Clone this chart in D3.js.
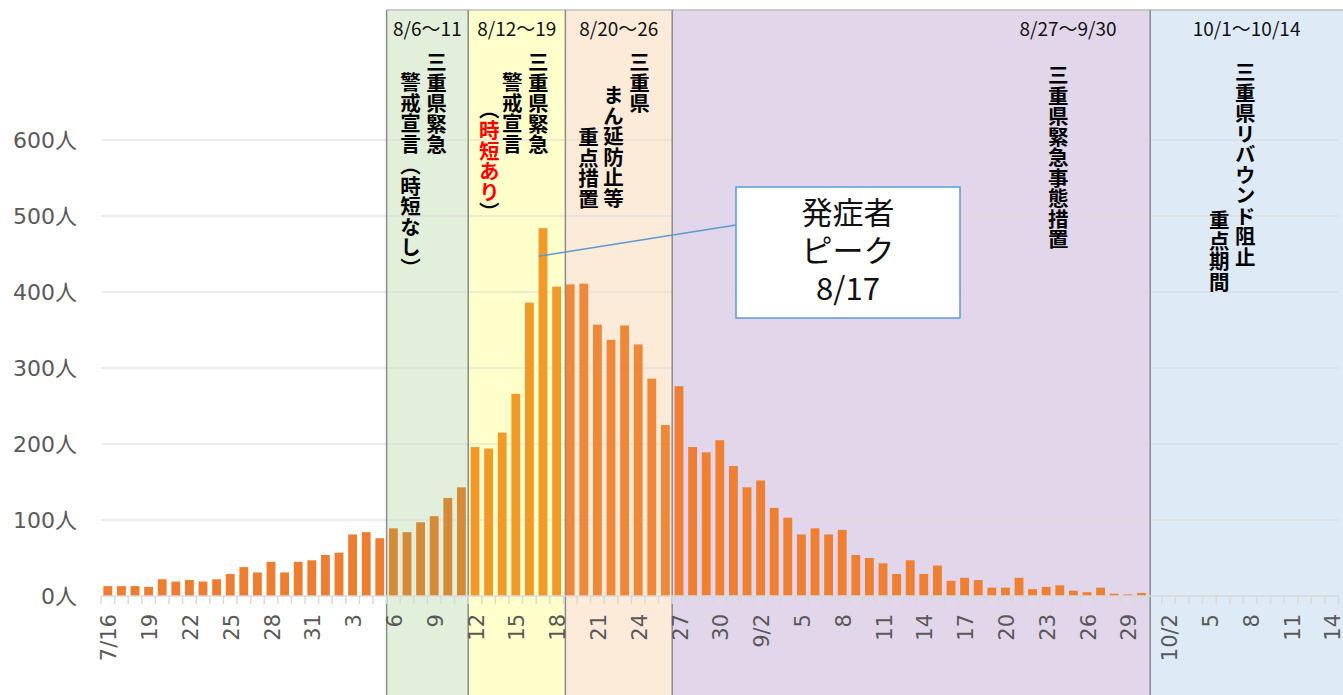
<!DOCTYPE html>
<html>
<head>
<meta charset="utf-8">
<script src="https://cdn.jsdelivr.net/npm/d3@7"></script>
<style>
  body { margin: 0; background: #fff; }
  svg { display: block; font-family: "Noto Sans CJK JP", sans-serif; }
  .vnote { writing-mode: vertical-rl; font-weight: bold; font-size: 20.5px; fill: #000; }
</style>
</head>
<body>
<svg id="chart" width="1343" height="695"></svg>
<script>
// 日付（カテゴリ）
const days = [].concat(
    d3.range(16, 32).map(d => "7/" + d),
    d3.range(1, 32).map(d => "8/" + d),
    d3.range(1, 31).map(d => "9/" + d),
    d3.range(1, 15).map(d => "10/" + d)
);

// 発症者数 7/16〜9/30
const cases = [
    13, 13, 13, 12, 22, 19, 21, 19, 22, 29, 38, 31, 45, 31, 45, 47,
    54, 57, 81, 84, 76, 89, 84, 97, 105, 129, 143, 196, 194, 215, 266, 386,
    484, 407, 410, 411, 357, 337, 356, 331, 286, 225, 276, 196, 189, 205, 171,
    143, 152, 116, 103, 81, 89, 81, 87, 54, 50, 43, 29, 47, 29, 40,
    20, 24, 21, 11, 11, 24, 9, 12, 14, 7, 5, 11, 3, 2, 4
];

const tickLabels = ["7/16", "19", "22", "25", "28", "31", "3", "6", "9", "12", "15", "18",
    "21", "24", "27", "30", "9/2", "5", "8", "11", "14", "17", "20", "23", "26", "29",
    "10/2", "5", "8", "11", "14"];
const yTicks = [0, 100, 200, 300, 400, 500, 600];

// 期間
const periodStart = ["8/6", "8/12", "8/19", "8/27", "10/1"];
const periodRange = ["8/6〜11", "8/12〜19", "8/20〜26", "8/27〜9/30", "10/1〜10/14"];
const periodNotes = [
    ["三重県緊急", "警戒宣言", "（時短なし）"],
    ["三重県緊急", "警戒宣言", "（時短あり）"],
    ["三重県", "まん延防止等", "重点措置"],
    ["三重県緊急事態措置"],
    ["三重県リバウンド阻止", "重点期間"]
];
const redWord = "時短あり";
const peakDay = "8/17";
const peakText = ["発症者", "ピーク", "8/17"];

// 見た目
const periodFill = ["#E2EFDA", "#FFFFCC", "#FDEBD9", "#E2D6EB", "#DEEBF7"];
const barFill = ["#D68B38", "#F29A28", "#F0883A", "#EE7F33", "#EE7F33"];
const baseBar = "#ED7D31";
// 縦書きの位置 [帯の左端からのx, 上端y]
const noteLayout = [
    [[50, 52], [24, 72], [24, 155]],
    [[70, 52], [44, 72], [21, 99]],
    [[74, 52], [48, 85], [23, 127]],
    [[386, 65]],
    [[95, 62], [69, 210]]
];

const W = 1343, H = 695;
const svg = d3.select("#chart");

const x = d3.scaleBand()
    .domain(days)
    .range([101, 1338.6])
    .paddingInner(0.35)
    .paddingOuter(0.175);
const step = x.step();
const left = d => x(d) - x.paddingInner() * step / 2;

const y = d3.scaleLinear().domain([0, 600]).range([596, 140]);

// 期間の帯
const starts = periodStart.map(left);
starts[2] += 2;
starts[4] += 2;
const ends = starts.slice(1).concat([W]);
const gBand = svg.append("g");
gBand.selectAll("rect")
    .data(periodStart)
    .enter()
    .append("rect")
    .attr("x", (d, i) => starts[i])
    .attr("y", 10)
    .attr("width", (d, i) => ends[i] - starts[i])
    .attr("height", H - 10)
    .attr("fill", (d, i) => periodFill[i]);

// グリッド
svg.append("g")
    .selectAll("line")
    .data(yTicks.slice(1))
    .enter()
    .append("line")
    .attr("x1", 101).attr("x2", 1338.6)
    .attr("y1", d => y(d)).attr("y2", d => y(d))
    .attr("stroke", "#D9D9D9")
    .attr("stroke-width", 1.2);

// 棒
function periodOf(d) {
    let k = -1;
    periodStart.forEach((s, i) => { if (days.indexOf(d) >= days.indexOf(s)) k = i; });
    return k;
}
svg.append("g")
    .selectAll("rect")
    .data(cases.map((v, i) => ({day: days[i], v: v})))
    .enter()
    .append("rect")
    .attr("x", d => x(d.day))
    .attr("y", d => y(d.v))
    .attr("width", x.bandwidth())
    .attr("height", d => y(0) - y(d.v))
    .attr("fill", d => {
        const k = periodOf(d.day);
        return k < 0 ? baseBar : barFill[k];
    });

// 帯の枠線
gBand.append("line")
    .attr("x1", starts[0]).attr("x2", W)
    .attr("y1", 10).attr("y2", 10)
    .attr("stroke", "#BFBFBF").attr("stroke-width", 1.5);
svg.append("g")
    .selectAll("line")
    .data(starts)
    .enter()
    .append("line")
    .attr("x1", d => d).attr("x2", d => d)
    .attr("y1", 10).attr("y2", H)
    .attr("stroke", "#8C8C8C")
    .attr("stroke-width", 1.5);

// X軸
const xAxis = svg.append("g");
xAxis.append("line")
    .attr("x1", 101).attr("x2", 1338.6)
    .attr("y1", y(0)).attr("y2", y(0))
    .attr("stroke", "#D9D9D9").attr("stroke-width", 1.5);
xAxis.selectAll(".tick")
    .data(days.concat(["end"]))
    .enter()
    .append("line")
    .attr("x1", (d, i) => 101 + i * step)
    .attr("x2", (d, i) => 101 + i * step)
    .attr("y1", y(0)).attr("y2", y(0) + 8)
    .attr("stroke", "#D9D9D9").attr("stroke-width", 1.5);
xAxis.selectAll("text")
    .data(tickLabels)
    .enter()
    .append("text")
    .attr("transform", (d, i) => {
        const cx = x(days[i * 3]) + x.bandwidth() / 2 + 1;
        return "translate(" + cx + "," + (y(0) + 18) + ") rotate(-90)";
    })
    .attr("text-anchor", "end")
    .attr("dy", "0.36em")
    .style("font-family", "'DejaVu Sans', 'Noto Sans CJK JP'")
    .style("font-size", "21px")
    .attr("fill", "#595959")
    .text(d => d);

// Y軸ラベル
svg.append("g")
    .selectAll("text")
    .data(yTicks)
    .enter()
    .append("text")
    .attr("x", 77)
    .attr("y", d => y(d))
    .attr("dy", "0.36em")
    .attr("text-anchor", "end")
    .style("font-family", "'DejaVu Sans', 'Noto Sans CJK JP'")
    .style("font-size", "22px")
    .attr("fill", "#595959")
    .text(d => d + "人");

// 期間の日付
svg.append("g")
    .selectAll("text")
    .data(periodRange)
    .enter()
    .append("text")
    .attr("x", (d, i) => i === 3 ? x("9/25") - 1 : (starts[i] + ends[i]) / 2)
    .attr("y", 36)
    .attr("text-anchor", "middle")
    .style("font-size", "19px")
    .attr("fill", "#111")
    .text(d => d);

// 縦書きの説明
periodNotes.forEach((cols, i) => {
    cols.forEach((col, j) => {
        const t = svg.append("text")
            .attr("class", "vnote")
            .attr("x", starts[i] + noteLayout[i][j][0])
            .attr("y", noteLayout[i][j][1]);
        const k = col.indexOf(redWord);
        if (k < 0) {
            t.text(col);
        } else {
            t.append("tspan").text(col.slice(0, k));
            t.append("tspan").attr("fill", "#FF0000").text(redWord);
            t.append("tspan").text(col.slice(k + redWord.length));
        }
    });
});

// ピークの吹き出し
const box = {x: 736, y: 187, w: 224, h: 131};
svg.append("line")
    .attr("x1", x(peakDay))
    .attr("y1", y(447))
    .attr("x2", box.x)
    .attr("y2", box.y + 38)
    .attr("stroke", "#5B9BD5")
    .attr("stroke-width", 1.5);
svg.append("rect")
    .attr("x", box.x).attr("y", box.y)
    .attr("width", box.w).attr("height", box.h)
    .attr("fill", "#fff")
    .attr("stroke", "#5B9BD5")
    .attr("stroke-width", 1.5);
svg.append("g")
    .selectAll("text")
    .data(peakText)
    .enter()
    .append("text")
    .attr("x", box.x + box.w / 2)
    .attr("y", (d, i) => 224 + i * 38)
    .attr("text-anchor", "middle")
    .style("font-size", "31px")
    .attr("fill", "#111")
    .text(d => d);
</script>
</body>
</html>
